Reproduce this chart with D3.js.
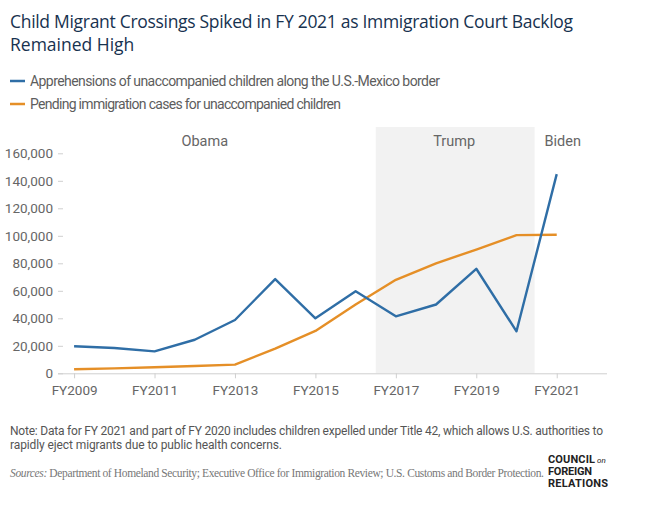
<!DOCTYPE html>
<html>
<head>
<meta charset="utf-8">
<script src="https://cdn.jsdelivr.net/npm/d3@7"></script>
<style>
	body { margin: 0; background: #fff; }
	svg text { font-family: Roboto, "Liberation Sans", sans-serif; }
	.title { font-family: "Open Sans", sans-serif !important; font-size: 17.5px; fill: #17324f; font-weight: 500; }
	.legend-text { font-size: 14px; fill: #5d5d5d; }
	.tick text { font-size: 13.5px; fill: #666; }
	.term-label { font-size: 14.5px; fill: #666; }
	.note { font-size: 12px; fill: #555; }
	.sources { font-family: "Liberation Serif", "DejaVu Serif", serif !important; font-size: 11.5px; fill: #777; }
	.logo { font-size: 11px; font-weight: 700; fill: #222; }
</style>
</head>
<body>
<script>
// chart data
const years = [2009, 2010, 2011, 2012, 2013, 2014, 2015, 2016, 2017, 2018, 2019, 2020, 2021];
const apprehensions = [19668, 18411, 15949, 24403, 38759, 68541, 39970, 59692, 41435, 50036, 76020, 30557, 144834];
const pendingCases = [2900, 3600, 4400, 5300, 6300, 18000, 30800, 50000, 68000, 80000, 90000, 100500, 100800];
const seriesNames = [
	"Apprehensions of unaccompanied children along the U.S.-Mexico border",
	"Pending immigration cases for unaccompanied children"
];
const xTickYears = [2009, 2011, 2013, 2015, 2017, 2019, 2021];
const yTicks = [0, 20000, 40000, 60000, 80000, 100000, 120000, 140000, 160000];
const terms = ["Obama", "Trump", "Biden"];
const termLabelYears = [2012.25, 2018.45, 2021.15];
const trumpShade = [2016.5, 2020.45];

const config = {
	width: 647,
	height: 506,
	left: 58,
	right: 607,
	top: 153.3,
	bottom: 373.3,
	blue: "#2f6ea6",
	orange: "#e58f27",
	axisColor: "#cfcfcf",
	shade: "#f2f2f2"
};

const svg = d3
	.select("body")
	.append("svg")
	.attr("width", config.width)
	.attr("height", config.height);

const x = d3.scaleLinear().domain([2008.6, 2022.25]).range([config.left, config.right]);
const y = d3.scaleLinear().domain([0, 160000]).range([config.bottom, config.top]);

// title
svg.append("text").attr("class", "title").attr("x", 10).attr("y", 28)
	.attr("textLength", 563)
	.text("Child Migrant Crossings Spiked in FY 2021 as Immigration Court Backlog");
svg.append("text").attr("class", "title").attr("x", 10).attr("y", 50.5)
	.text("Remained High");

// legend
const legendColors = [config.blue, config.orange];
seriesNames.forEach((name, i) => {
	const ly = 81 + i * 23;
	svg.append("line")
		.attr("x1", 10).attr("x2", 25)
		.attr("y1", ly).attr("y2", ly)
		.attr("stroke", legendColors[i])
		.attr("stroke-width", 2.5);
	svg.append("text")
		.attr("class", "legend-text")
		.attr("x", 30)
		.attr("y", ly + 5)
		.attr("textLength", i === 0 ? 410 : 311)
		.text(name);
});

// Trump shading
svg.append("rect")
	.attr("x", x(trumpShade[0]))
	.attr("y", 127)
	.attr("width", x(trumpShade[1]) - x(trumpShade[0]))
	.attr("height", config.bottom - 127)
	.attr("fill", config.shade);

terms.forEach((t, i) => {
	svg.append("text")
		.attr("class", "term-label")
		.attr("x", x(termLabelYears[i]))
		.attr("y", 145.5)
		.attr("text-anchor", "middle")
		.text(t);
});

// axes
const xAxis = svg.append("g")
	.attr("transform", `translate(0,${config.bottom})`)
	.call(d3.axisBottom(x).tickValues(xTickYears).tickSize(5).tickPadding(7)
		.tickFormat(d => "FY" + d));
xAxis.select(".domain").attr("stroke", config.axisColor).attr("d", `M${config.left},0.5H${config.right}`);
xAxis.selectAll(".tick line").attr("stroke", config.axisColor);

const yAxis = svg.append("g")
	.attr("transform", `translate(${config.left},0)`)
	.call(d3.axisLeft(y).tickValues(yTicks).tickSizeInner(-5).tickSizeOuter(0).tickPadding(5)
		.tickFormat(d3.format(",")));
yAxis.select(".domain").remove();
yAxis.selectAll(".tick line").attr("stroke", config.axisColor);

// lines
const line = d3.line()
	.x((d, i) => x(years[i]))
	.y(d => y(d));

[pendingCases, apprehensions].forEach((series, i) => {
	svg.append("path")
		.datum(series)
		.attr("fill", "none")
		.attr("stroke", i === 0 ? config.orange : config.blue)
		.attr("stroke-width", 2.4)
		.attr("stroke-linejoin", "round")
		.attr("d", line);
});

// note and sources
svg.append("text").attr("class", "note").attr("x", 10).attr("y", 434.5)
	.attr("textLength", 593)
	.text("Note: Data for FY 2021 and part of FY 2020 includes children expelled under Title 42, which allows U.S. authorities to");
svg.append("text").attr("class", "note").attr("x", 10).attr("y", 449)
	.attr("textLength", 272)
	.text("rapidly eject migrants due to public health concerns.");

const src = svg.append("text").attr("class", "sources").attr("x", 10).attr("y", 476.5)
	.attr("textLength", 534);
src.append("tspan").attr("font-style", "italic").text("Sources:");
src.append("tspan").text(" Department of Homeland Security; Executive Office for Immigration Review; U.S. Customs and Border Protection.");

// logo
const logoLines = [["COUNCIL", 463, 47], ["FOREIGN", 475, 44], ["RELATIONS", 487, 60]];
logoLines.forEach(([txt, ly, w]) => {
	svg.append("text").attr("class", "logo")
		.attr("x", 548).attr("y", ly)
		.attr("textLength", w)
		.text(txt);
});
svg.append("text")
	.attr("x", 597).attr("y", 463)
	.attr("font-family", "Liberation Serif, serif")
	.attr("font-style", "italic")
	.attr("font-size", 8)
	.attr("fill", "#222")
	.text("on");
</script>
</body>
</html>
